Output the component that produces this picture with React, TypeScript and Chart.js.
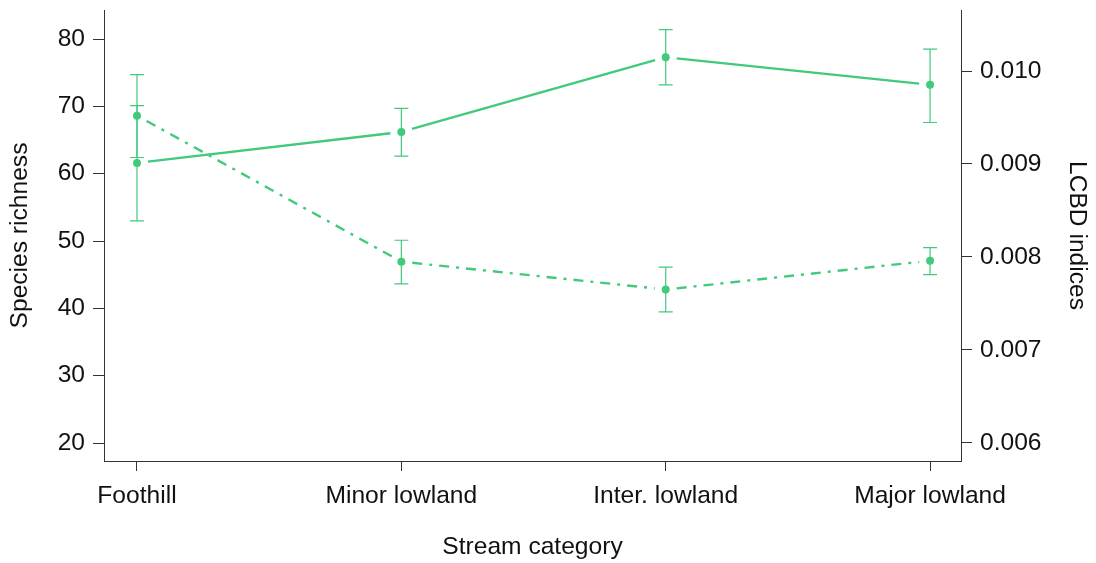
import { useEffect, useRef } from 'react';
import { Chart, registerables } from 'chart.js';

Chart.register(...registerables);

// Stream categories along the x axis
const categories = ['Foothill', 'Minor lowland', 'Inter. lowland', 'Major lowland'];

// Species richness (left axis): mean with lower / upper error limits
const richness = [61.6, 66.2, 77.3, 73.2];
const richnessLow = [53.0, 62.6, 73.2, 67.6];
const richnessHigh = [70.1, 69.7, 81.4, 78.5];

// LCBD indices (right axis): mean with lower / upper error limits
const lcbd = [0.00952, 0.00795, 0.00765, 0.00796];
const lcbdLow = [0.00907, 0.00771, 0.00741, 0.00781];
const lcbdHigh = [0.00996, 0.00818, 0.00789, 0.0081];

// Tick values for each axis
const richnessTicks = [20, 30, 40, 50, 60, 70, 80];
const lcbdTicks = [0.006, 0.007, 0.008, 0.009, 0.01];
const categoryTicks = [0, 1, 2, 3];

const GREEN = '#41c97c';
const AXIS = '#333333';
const FONT = '"Liberation Sans", Arial, Helvetica, sans-serif';

type SeriesStyle = { low: number[]; high: number[]; dash: number[] };

const seriesStyles: SeriesStyle[] = [
  { low: richnessLow, high: richnessHigh, dash: [] },
  { low: lcbdLow, high: lcbdHigh, dash: [10, 7, 3, 7] },
];

// Draws connecting lines (with a gap around each marker) and error bars
const errorLinePlugin = {
  id: 'errorLines',
  beforeDatasetsDraw(chart: any) {
    const ctx: CanvasRenderingContext2D = chart.ctx;
    const xs = chart.scales.x;
    chart.data.datasets.forEach((ds: any, i: number) => {
      const style = seriesStyles[i];
      const ys = chart.scales[ds.yAxisID];
      const pts = ds.data.map((p: any) => ({
        x: xs.getPixelForValue(p.x),
        y: ys.getPixelForValue(p.y),
      }));

      ctx.save();
      ctx.strokeStyle = GREEN;
      ctx.lineWidth = 2.4;
      ctx.lineCap = 'butt';
      ctx.setLineDash(style.dash);
      const gap = 11;
      for (let k = 0; k < pts.length - 1; k++) {
        const a = pts[k];
        const b = pts[k + 1];
        const dx = b.x - a.x;
        const dy = b.y - a.y;
        const len = Math.hypot(dx, dy);
        const ux = dx / len;
        const uy = dy / len;
        ctx.beginPath();
        ctx.moveTo(a.x + ux * gap, a.y + uy * gap);
        ctx.lineTo(b.x - ux * gap, b.y - uy * gap);
        ctx.stroke();
      }
      ctx.restore();

      ctx.save();
      ctx.strokeStyle = GREEN;
      ctx.lineWidth = 1.2;
      ctx.setLineDash([]);
      const cap = 7;
      ds.data.forEach((p: any, k: number) => {
        const x = xs.getPixelForValue(p.x);
        const yl = ys.getPixelForValue(style.low[k]);
        const yh = ys.getPixelForValue(style.high[k]);
        ctx.beginPath();
        ctx.moveTo(x, yl);
        ctx.lineTo(x, yh);
        ctx.moveTo(x - cap, yl);
        ctx.lineTo(x + cap, yl);
        ctx.moveTo(x - cap, yh);
        ctx.lineTo(x + cap, yh);
        ctx.stroke();
      });
      ctx.restore();
    });
  },
};

export default function App() {
  const canvasRef = useRef<HTMLCanvasElement | null>(null);

  useEffect(() => {
    if (!canvasRef.current) return;
    const tickFont = { family: FONT, size: 24.6 };
    const chart = new Chart(canvasRef.current, {
      type: 'line',
      data: {
        datasets: [
          {
            label: 'Species richness',
            data: richness.map((v, i) => ({ x: i, y: v })),
            yAxisID: 'yLeft',
            showLine: false,
            pointRadius: 4,
            pointBackgroundColor: GREEN,
            pointBorderColor: GREEN,
            pointBorderWidth: 0,
            borderColor: GREEN,
          },
          {
            label: 'LCBD indices',
            data: lcbd.map((v, i) => ({ x: i, y: v })),
            yAxisID: 'yRight',
            showLine: false,
            pointRadius: 4,
            pointBackgroundColor: GREEN,
            pointBorderColor: GREEN,
            pointBorderWidth: 0,
            borderColor: GREEN,
          },
        ],
      },
      options: {
        animation: false,
        responsive: true,
        maintainAspectRatio: false,
        layout: { padding: { top: 10, left: 0, right: 0, bottom: 0 } },
        plugins: {
          legend: { display: false },
          tooltip: { enabled: false },
        },
        events: [],
        scales: {
          x: {
            type: 'linear',
            min: -0.1248,
            max: 3.117,
            afterBuildTicks: (scale: any) => {
              scale.ticks = categoryTicks.map((v) => ({ value: v }));
            },
            afterFit: (scale: any) => {
              scale.height = 102;
              scale.paddingLeft = 0;
              scale.paddingRight = 0;
            },
            border: { display: true, color: AXIS, width: 1 },
            grid: {
              drawOnChartArea: false,
              drawTicks: true,
              tickLength: 10,
              color: AXIS,
              tickColor: AXIS,
            },
            ticks: {
              autoSkip: false,
              maxRotation: 0,
              padding: 10,
              color: '#111',
              font: tickFont,
              callback: (v: any) => categories[Number(v)] ?? '',
            },
            title: {
              display: true,
              text: 'Stream category',
              color: '#111',
              font: tickFont,
              padding: { top: 0, bottom: 1 },
            },
          },
          yLeft: {
            type: 'linear',
            position: 'left',
            min: 17.33,
            max: 84.31,
            afterBuildTicks: (scale: any) => {
              scale.ticks = richnessTicks.map((v) => ({ value: v }));
            },
            afterFit: (scale: any) => {
              scale.width = 104;
              scale.paddingTop = 0;
              scale.paddingBottom = 0;
            },
            border: { display: true, color: AXIS, width: 1 },
            grid: {
              drawOnChartArea: false,
              drawTicks: true,
              tickLength: 11,
              color: AXIS,
              tickColor: AXIS,
            },
            ticks: {
              padding: 8,
              color: '#111',
              font: tickFont,
              callback: (v: any) => String(v),
            },
            title: {
              display: true,
              text: 'Species richness',
              color: '#111',
              font: tickFont,
              padding: { top: 5, bottom: 0 },
            },
          },
          yRight: {
            type: 'linear',
            position: 'right',
            min: 0.005806,
            max: 0.010656,
            afterBuildTicks: (scale: any) => {
              scale.ticks = lcbdTicks.map((v) => ({ value: v }));
            },
            afterFit: (scale: any) => {
              scale.width = 135;
              scale.paddingTop = 0;
              scale.paddingBottom = 0;
            },
            border: { display: true, color: AXIS, width: 1 },
            grid: {
              drawOnChartArea: false,
              drawTicks: true,
              tickLength: 11,
              color: AXIS,
              tickColor: AXIS,
            },
            ticks: {
              padding: 8,
              color: '#111',
              font: tickFont,
              callback: (v: any) => Number(v).toFixed(3),
            },
            title: {
              display: true,
              text: 'LCBD indices',
              color: '#111',
              font: tickFont,
              padding: { top: 4, bottom: 0 },
            },
          },
        },
      },
      plugins: [errorLinePlugin],
    } as any);
    return () => chart.destroy();
  }, []);

  return (
    <div
      style={{
        position: 'fixed',
        left: 0,
        top: 0,
        width: '1096px',
        height: '563px',
        background: '#fff',
      }}
    >
      <canvas ref={canvasRef} />
    </div>
  );
}
